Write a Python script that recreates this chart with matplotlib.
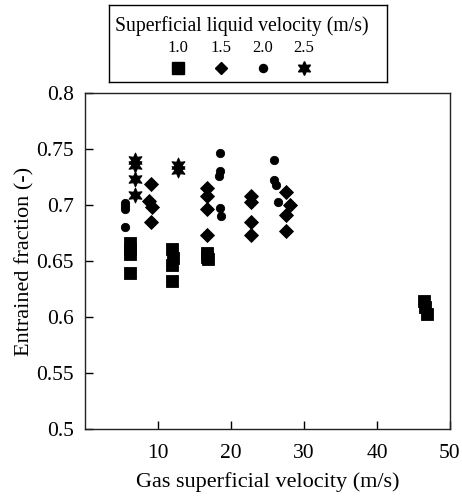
import matplotlib
matplotlib.use("Agg")
import matplotlib.pyplot as plt

plt.rcParams['font.family'] = ['Liberation Serif', 'DejaVu Serif']

# Data: gas superficial velocity (m/s) vs entrained fraction (-)
x_10 = [6.2, 6.2, 6.2, 6.2, 11.9, 12.1, 11.9, 11.9, 16.7, 16.7, 16.9, 46.5, 46.6, 46.8]
y_10 = [0.666, 0.661, 0.656, 0.639, 0.661, 0.653, 0.646, 0.632, 0.657, 0.654, 0.652, 0.614, 0.609, 0.603]

x_15 = [9.0, 8.8, 9.2, 9.0, 16.7, 16.7, 16.7, 16.7, 22.8, 22.8, 22.8, 22.8, 27.6, 28.1, 27.6, 27.5]
y_15 = [0.719, 0.704, 0.698, 0.685, 0.715, 0.708, 0.696, 0.673, 0.708, 0.703, 0.685, 0.673, 0.712, 0.700, 0.691, 0.677]

x_20 = [5.5, 5.5, 5.5, 5.5, 18.5, 18.5, 18.3, 18.5, 18.6, 25.9, 25.9, 26.1, 26.5]
y_20 = [0.702, 0.699, 0.696, 0.680, 0.746, 0.730, 0.726, 0.697, 0.690, 0.740, 0.722, 0.718, 0.703]

x_25 = [6.9, 6.8, 6.9, 6.9, 12.7, 12.7]
y_25 = [0.740, 0.736, 0.723, 0.709, 0.736, 0.731]

legend_labels = ['1.0', '1.5', '2.0', '2.5']
legend_title = 'Superficial liquid velocity (m/s)'
xticks = [10, 20, 30, 40, 50]
yticks = [0.5, 0.55, 0.6, 0.65, 0.7, 0.75, 0.8]
ytick_labels = ['0.5', '0.55', '0.6', '0.65', '0.7', '0.75', '0.8']

series = [
    (x_10, y_10, 's', 9.0),
    (x_15, y_15, 'D', 7.0),
    (x_20, y_20, 'o', 6.0),
    (x_25, y_25, (6, 1, 0), 11.0),
]

fig = plt.figure(figsize=(4.62, 4.96), dpi=100)
ax = fig.add_axes([85/462, 1 - 429/496, (450 - 85)/462, (429 - 93)/496])

for xs, ys, m, ms in series:
    ax.plot(xs, ys, linestyle='none', marker=m, markersize=ms,
            color='black', markeredgecolor='black', markeredgewidth=0.6)

ax.set_xlim(0, 50)
ax.set_ylim(0.5, 0.8)
ax.set_xticks(xticks)
ax.set_xticklabels([str(t) for t in xticks])
ax.set_yticks(yticks)
ax.set_yticklabels(ytick_labels)
ax.tick_params(axis='x', direction='in', length=6, width=1, labelsize=15.5, pad=11)
ax.tick_params(axis='y', direction='in', length=6, width=1, labelsize=15.5, pad=8)
for s in ax.spines.values():
    s.set_linewidth(1.0)
    s.set_color('#222222')
ax.set_xlabel('Gas superficial velocity (m/s)', fontsize=16, labelpad=6)
ax.set_ylabel('Entrained fraction (-)', fontsize=16, labelpad=1)

# Custom legend box (labels above markers)
lax = fig.add_axes([109/462, 1 - 82/496, (387 - 109)/462, (82 - 5)/496])
lax.set_xlim(109, 387)
lax.set_ylim(82, 5)
lax.set_xticks([])
lax.set_yticks([])
for s in lax.spines.values():
    s.set_linewidth(1.0)
lax.text(242, 26, legend_title, ha='center', va='center', fontsize=14.2)
leg_x = [178, 221, 263, 304]
leg_ms = [8.5, 6.5, 5.8, 10.0]
for lx, lab, (xs, ys, m, ms), lms in zip(leg_x, legend_labels, series, leg_ms):
    lax.text(lx, 48, lab, ha='center', va='center', fontsize=12)
    lax.plot([lx], [68], linestyle='none', marker=m, markersize=lms, color='black')

fig.savefig('out.png', dpi=100)
